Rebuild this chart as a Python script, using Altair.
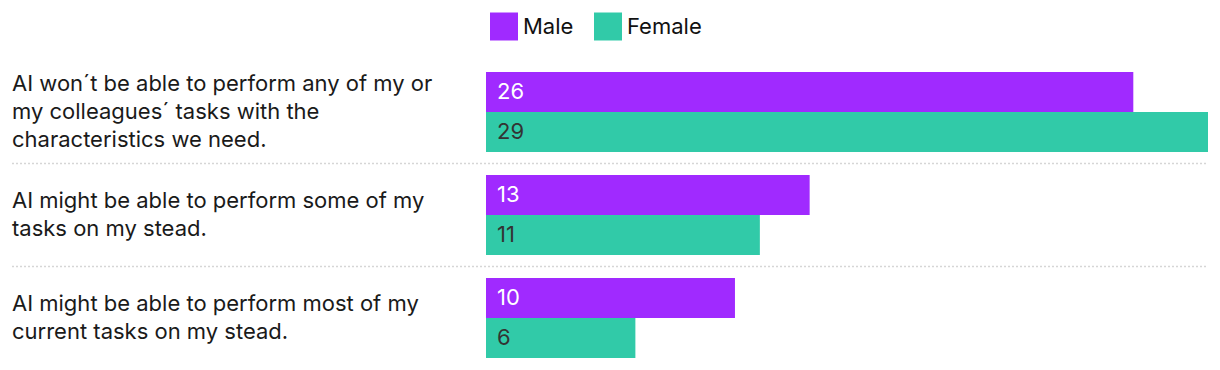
import altair as alt
import pandas as pd

categories = [
    "AI won´t be able to perform any of my or|my colleagues´ tasks with the|characteristics we need.",
    "AI might be able to perform some of my|tasks on my stead.",
    "AI might be able to perform most of my|current tasks on my stead.",
]
genders = ["Male", "Female"]
male = [26, 13, 10]
female = [29, 11, 6]

PURPLE = "#A02AFF"
GREEN = "#31CAA8"
FONT = "Inter"
FS = 22
LH = 28

rows = []
for c, m, f in zip(categories, male, female):
    rows.append({"cat": c, "gender": "Male", "value": m})
    rows.append({"cat": c, "gender": "Female", "value": f})
df = pd.DataFrame(rows)
sep_df = pd.DataFrame({"cat": categories[1:]})
lab_df = pd.DataFrame({"cat": categories, "nlines": [c.count("|") + 1 for c in categories]})

yscale = alt.Scale(domain=categories, paddingInner=0.223, paddingOuter=0.1117)
xscale = alt.Scale(domain=[0, 29], nice=False, zero=True)
yoff = alt.YOffset("gender:N", scale=alt.Scale(domain=genders, paddingInner=0, paddingOuter=0))
ycat = alt.Y("cat:N", scale=yscale, axis=None, sort=categories)

bars = alt.Chart(df).mark_bar().encode(
    x=alt.X("value:Q", scale=xscale, axis=None),
    y=ycat,
    yOffset=yoff,
    color=alt.Color(
        "gender:N",
        scale=alt.Scale(domain=genders, range=[PURPLE, GREEN]),
        legend=alt.Legend(
            title=None, orient="none", legendX=4, legendY=-48,
            direction="horizontal", symbolType="square", symbolSize=784,
            symbolStrokeWidth=0, symbolOpacity=1,
            labelFontSize=FS, labelFont=FONT, labelColor="#111111",
            columnPadding=20, labelOffset=5,
        ),
    ),
)

values = alt.Chart(df).mark_text(
    align="left", baseline="middle", dx=11, fontSize=FS, font=FONT
).encode(
    x=alt.datum(0),
    y=ycat,
    yOffset=yoff,
    text="value:Q",
    color=alt.condition("datum.gender == 'Male'", alt.value("white"), alt.value("#333333")),
)

seps = alt.Chart(sep_df).mark_rule(
    strokeDash=[2, 2], color="#d6d6d6", strokeWidth=1.5, yOffset=-11.5
).encode(
    y=alt.Y("cat:N", scale=yscale, axis=None, bandPosition=0, sort=categories),
    x=alt.value(-474),
    x2=alt.value(722),
)

label_layers = []
for n in sorted(set(lab_df["nlines"])):
    label_layers.append(
        alt.Chart(lab_df).transform_filter(f"datum.nlines == {n}").mark_text(
            align="left", baseline="middle", lineBreak="|", lineHeight=LH,
            fontSize=FS, font=FONT, color="#1a1a1a", dy=-(n - 1) * LH / 2
        ).encode(
            x=alt.value(-474),
            y=ycat,
            text="cat:N",
        )
    )

chart = alt.layer(seps, bars, values, *label_layers).properties(
    width=722, height=309,
    autosize=alt.AutoSizeParams(type="none"),
    padding={"left": 478, "top": 52.5, "right": 0, "bottom": 0},
).configure(font=FONT).configure_view(stroke=None)

chart.save("out.html", embed_options={"renderer": "svg", "actions": False})
